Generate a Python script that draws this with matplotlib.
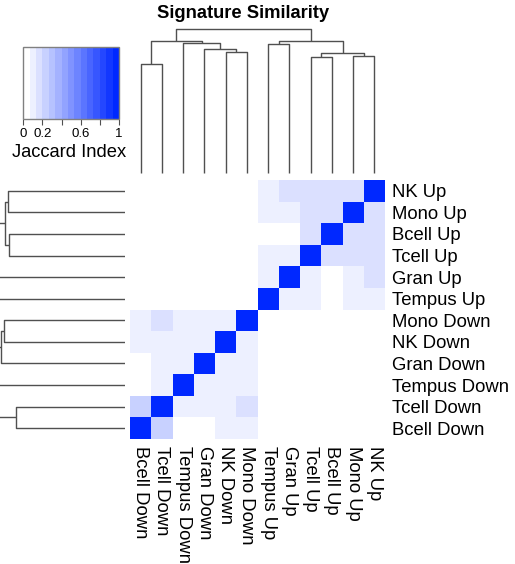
import numpy as np
import matplotlib
matplotlib.use('Agg')
import matplotlib.pyplot as plt
from matplotlib.colors import ListedColormap, BoundaryNorm, to_rgb
from matplotlib.cm import ScalarMappable

plt.rcParams['font.family'] = ['Liberation Sans', 'DejaVu Sans']

# leaf order (left to right on columns, bottom to top on rows)
labels = ['Bcell Down', 'Tcell Down', 'Tempus Down', 'Gran Down', 'NK Down', 'Mono Down',
          'Tempus Up', 'Gran Up', 'Tcell Up', 'Bcell Up', 'Mono Up', 'NK Up']

# Jaccard index, upper triangle per row (pairs i<j)
down_block = [
    [0.23, 0.0, 0.0, 0.1, 0.1],   # Bcell Down vs Tcell, Tempus, Gran, NK, Mono Down
    [0.1, 0.1, 0.1, 0.17],        # Tcell Down
    [0.1, 0.1, 0.1],              # Tempus Down
    [0.1, 0.1],                   # Gran Down
    [0.1],                        # NK Down
]
up_block = [
    [0.1, 0.1, 0.0, 0.1, 0.1],    # Tempus Up vs Gran, Tcell, Bcell, Mono, NK Up
    [0.1, 0.0, 0.1, 0.17],        # Gran Up
    [0.17, 0.17, 0.17],           # Tcell Up
    [0.17, 0.17],                 # Bcell Up
    [0.17],                       # Mono Up
]

# dendrogram merges: (child a, child b, height); leaves are 0..11, new nodes from 12
merges = [
    (0, 1, 0.755),
    (4, 5, 0.842),
    (3, 13, 0.859),
    (2, 14, 0.900),
    (12, 15, 0.919),
    (6, 7, 0.894),
    (8, 9, 0.803),
    (10, 11, 0.8125),
    (18, 19, 0.831),
    (17, 20, 0.919),
    (16, 21, 1.0),
]

key_ticks = [0, 0.2, 0.4, 0.6, 0.8, 1.0]
key_labels = ['0', '0.2', '', '0.6', '', '1']

n = len(labels)
M = np.eye(n)
for off, block in [(0, down_block), (6, up_block)]:
    for i, row in enumerate(block):
        for k, v in enumerate(row):
            j = i + 1 + k
            M[off + i, off + j] = v
            M[off + j, off + i] = v

W, H = 515, 564
fig = plt.figure(figsize=(W / 100, H / 100), dpi=100)

def px_axes(x0, y0, x1, y1):
    return fig.add_axes([x0 / W, 1 - y1 / H, (x1 - x0) / W, (y1 - y0) / H])

# colours
blue = np.array(to_rgb('#0028FF'))
white = np.ones(3)
cols = [white + (blue - white) * t for t in np.linspace(0, 1, 15)]
cmap = ListedColormap(cols)
norm = BoundaryNorm(np.linspace(0, 1, 16), cmap.N)

# heatmap
ax = px_axes(130, 180, 385, 439)
ax.pcolormesh(np.arange(n + 1) - 0.5, np.arange(n + 1) - 0.5, M, cmap=cmap, norm=norm)
ax.set_xlim(-0.5, n - 0.5)
ax.set_ylim(-0.5, n - 0.5)
for s in ax.spines.values():
    s.set_visible(False)
ax.set_xticks(range(n))
ax.set_xticklabels(labels, rotation=-90, fontsize=13.3)
ax.set_yticks(range(n))
ax.set_yticklabels(labels, fontsize=13.3)
ax.yaxis.tick_right()
ax.tick_params(axis='x', length=0, pad=5)
ax.tick_params(axis='y', length=0, pad=5)


def draw_dendro(a, vertical):
    pos = {i: float(i) for i in range(n)}
    hgt = {i: 0.0 for i in range(n)}
    for k, (c1, c2, h) in enumerate(merges):
        node = n + k
        p1, p2 = pos[c1], pos[c2]
        xs = [p1, p1, p2, p2]
        ys = [hgt[c1], h, h, hgt[c2]]
        if vertical:
            a.plot(xs, ys, color='#505050', lw=1.0, clip_on=False, solid_capstyle='butt')
        else:
            a.plot(ys, xs, color='#505050', lw=1.0, solid_capstyle='butt')
        pos[node] = (p1 + p2) / 2
        hgt[node] = h
    a.axis('off')


# column dendrogram
axc = px_axes(130, 29, 385, 173)
draw_dendro(axc, True)
axc.set_xlim(-0.5, n - 0.5)
axc.set_ylim(0, 1.0)

# row dendrogram (runs off the left edge)
axr = px_axes(0, 180, 125, 439)
draw_dendro(axr, False)
axr.set_xlim(125 / 144, 0)
axr.set_ylim(-0.5, n - 0.5)

# colour key
cax = px_axes(23.3, 46.7, 119, 119.3)
cb = fig.colorbar(ScalarMappable(norm=norm, cmap=cmap), cax=cax, orientation='horizontal')
cb.minorticks_off()
cb.set_ticks(key_ticks)
cb.set_ticklabels(key_labels)
cb.ax.tick_params(which='both', length=4, width=0.8, color='#505050', labelsize=9.5, pad=2)
cb.ax.xaxis.set_minor_locator(matplotlib.ticker.NullLocator())
cb.outline.set_edgecolor('#808080')
cb.outline.set_linewidth(1.0)
fig.text(69.5 / W, 1 - 153 / H, 'Jaccard Index', ha='center', va='center', fontsize=13.2)

fig.text(243.5 / W, 1 - 14 / H, 'Signature Similarity', ha='center', va='center',
         fontsize=13.2, fontweight='bold')

fig.savefig('out.png', dpi=100)
